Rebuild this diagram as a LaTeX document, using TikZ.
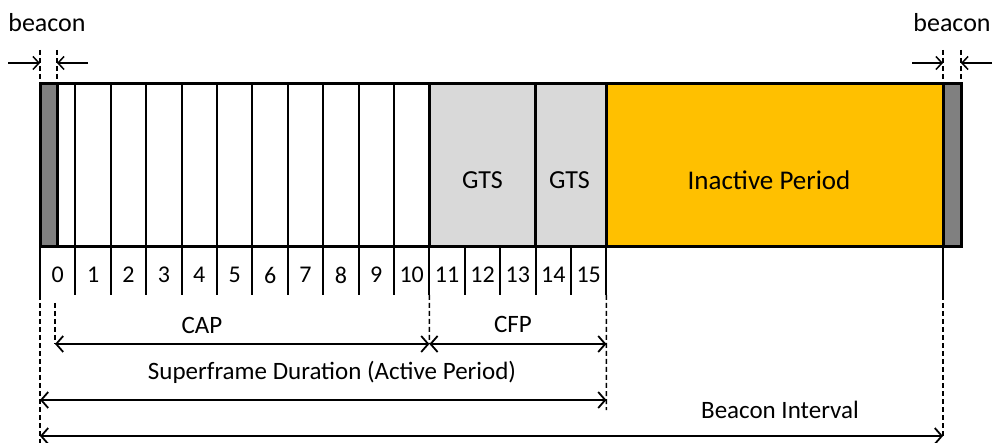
\documentclass[tikz,border=0pt]{standalone}
\usepackage{fontspec}
\setmainfont{Carlito}
\usetikzlibrary{arrows.meta}
\definecolor{beacongray}{HTML}{808080}
\definecolor{gtsgray}{HTML}{D9D9D9}
\definecolor{inact}{HTML}{FFC000}
\begin{document}
\begin{tikzpicture}[x=1pt,y=-1pt,
  lbl/.style={font=\fontsize{25}{29}\selectfont, inner sep=0pt},
  numlbl/.style={font=\fontsize{24}{28}\selectfont, inner sep=0pt},
  biglbl/.style={font=\fontsize{26}{30}\selectfont, inner sep=0pt},
  barb/.tip={Straight Barb[length=7pt,width=16pt,line width=1.8pt]},
  sbarb/.tip={Straight Barb[length=6pt,width=13pt,line width=1.5pt]},
  dimline/.style={line width=1.8pt, barb-barb},
  small/.style={line width=1.5pt, -sbarb},
  guide/.style={line width=1.4pt, dash pattern=on 5pt off 3pt},
  outline/.style={line width=3pt},
  divider/.style={line width=2pt}]
\useasboundingbox (0,0) rectangle (993,443);
% boundary coordinates
\foreach \i in {0,...,16} {
  \coordinate (t\i) at ({40+\i*35.4},84);
  \coordinate (b\i) at ({40+\i*35.4},247);
  \coordinate (n\i) at ({40+\i*35.4},295);
}
\coordinate (bend) at (57,84);
\coordinate (iend) at (943,84);
\coordinate (iendb) at (943,247);
\coordinate (iendn) at (943,295);
\coordinate (rend) at (961,247);
% bar
\draw[outline, fill=white] (t0) rectangle (b11);
\foreach \i in {1,...,10} \draw[divider] (t\i) -- (n\i);
\draw[outline, fill=beacongray] (t0) rectangle (57,247);
\draw[outline, fill=gtsgray] (t11) rectangle (b14);
\draw[outline, fill=gtsgray] (t14) rectangle (b16);
\draw[outline, fill=inact] (t16) rectangle (iendb);
\draw[outline, fill=beacongray] (iend) rectangle (rend);
% number row dividers
\foreach \i in {0,11,12,13,14,15,16} \draw[divider] (b\i) -- (n\i);
\draw[divider] (iendb) -- (iendn);
\foreach \i in {0,...,15} \node[numlbl] (num\i) at ({40+(\i+0.5)*35.4},275) {\i};
% labels in bar
\node[biglbl] (gts1) at (482.5,180) {GTS};
\node[biglbl] (gts2) at (569.5,180) {GTS};
\node[font=\fontsize{27}{31}\selectfont, inner sep=0pt] (inactive) at (769,180) {Inactive Period};
% beacon markers top
\node[biglbl] (beaconL) at (47,23) {beacon};
\node[biglbl] (beaconR) at (952,23) {beacon};
\coordinate (la1) at (8,63);  \coordinate (la2) at (40,63);
\coordinate (la3) at (88,63); \coordinate (la4) at (57,63);
\coordinate (ra1) at (912,63); \coordinate (ra2) at (943,63);
\coordinate (ra3) at (992,63); \coordinate (ra4) at (961,63);
\draw[small] (la1) -- (la2);
\draw[small] (la3) -- (la4);
\draw[small] (ra1) -- (ra2);
\draw[small] (ra3) -- (ra4);
\draw[guide] (40,50) -- (t0);
\draw[guide] (57,50) -- (bend);
\draw[guide] (943,50) -- (iend);
\draw[guide] (961,50) -- (961,84);
% guides below
\coordinate (capL) at (55,344);
\coordinate (capR) at (429.4,344);
\coordinate (cfpR) at (606.4,344);
\coordinate (sfL) at (40,400);
\coordinate (sfR) at (606.4,400);
\coordinate (biL) at (40,436);
\coordinate (biR) at (943,436);
\draw[guide] (n0) -- (40,443);
\draw[guide] (55,303) -- (capL);
\draw[guide] (n11) -- (capR);
\draw[guide] (n16) -- (606.4,410);
\draw[guide] (iendn) -- (biR);
% dimension arrows
\draw[dimline] (capL) -- (capR);
\draw[dimline] (capR) -- (cfpR);
\draw[dimline] (sfL) -- (sfR);
\draw[dimline] (biL) -- (biR);
\node[lbl] (cap) at (202,325) {CAP};
\node[lbl] (cfp) at (513,324) {CFP};
\node[lbl] (sf) at (332,372) {Superframe Duration (Active Period)};
\node[lbl] (bi) at (780,410) {Beacon Interval};
\end{tikzpicture}
\end{document}
